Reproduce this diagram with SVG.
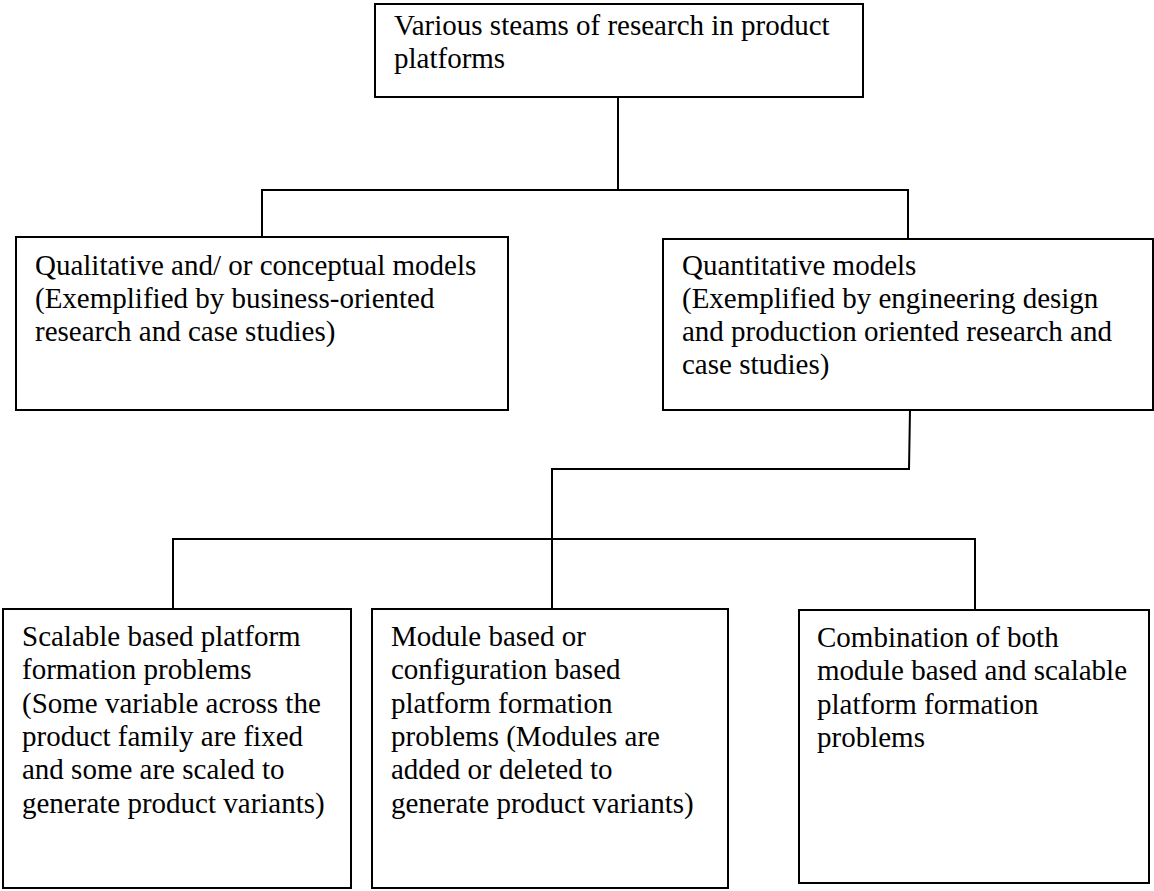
<svg xmlns="http://www.w3.org/2000/svg" width="1154" height="891" viewBox="0 0 1154 891">
  <style>
    .box { fill: #ffffff; stroke: #000000; stroke-width: 2; }
    .link { fill: none; stroke: #000000; stroke-width: 2; }
    .label { font-family: "Liberation Serif", "Times New Roman", serif; font-size: 29px; fill: #000000; }
  </style>
  <rect width="1154" height="891" fill="#ffffff"/>

  <!-- tree connectors -->
  <g id="connectors">
    <polyline class="link" points="618,97 618,190"/>
    <polyline class="link" points="262,237 262,190 908,190 908,239"/>
    <polyline class="link" points="910,410 909,469 552,469 552,609"/>
    <polyline class="link" points="173,609 173,539 975,539 975,610"/>
  </g>

  <g id="node-root">
    <rect class="box" x="375" y="4" width="488" height="93"/>
    <text class="label" x="394" y="35">Various steams of research in product</text>
    <text class="label" x="394" y="68">platforms</text>
  </g>

  <g id="node-qualitative">
    <rect class="box" x="16" y="237" width="492" height="173"/>
    <text class="label" x="35" y="275">Qualitative and/ or conceptual models</text>
    <text class="label" x="35" y="308">(Exemplified by business-oriented</text>
    <text class="label" x="35" y="341">research and case studies)</text>
  </g>

  <g id="node-quantitative">
    <rect class="box" x="663" y="239" width="490" height="171"/>
    <text class="label" x="682" y="275">Quantitative models</text>
    <text class="label" x="682" y="308">(Exemplified by engineering design</text>
    <text class="label" x="682" y="341">and production oriented research and</text>
    <text class="label" x="682" y="374">case studies)</text>
  </g>

  <g id="node-scalable">
    <rect class="box" x="3" y="609" width="348" height="279"/>
    <text class="label" x="22" y="646">Scalable based platform</text>
    <text class="label" x="22" y="679">formation problems</text>
    <text class="label" x="22" y="713">(Some variable across the</text>
    <text class="label" x="22" y="746">product family are fixed</text>
    <text class="label" x="22" y="779">and some are scaled to</text>
    <text class="label" x="22" y="813">generate product variants)</text>
  </g>

  <g id="node-module">
    <rect class="box" x="372" y="609" width="356" height="279"/>
    <text class="label" x="391" y="646">Module based or</text>
    <text class="label" x="391" y="679">configuration based</text>
    <text class="label" x="391" y="713">platform formation</text>
    <text class="label" x="391" y="746">problems (Modules are</text>
    <text class="label" x="391" y="779">added or deleted to</text>
    <text class="label" x="391" y="813">generate product variants)</text>
  </g>

  <g id="node-combination">
    <rect class="box" x="799" y="610" width="350" height="273"/>
    <text class="label" x="817" y="647">Combination of both</text>
    <text class="label" x="817" y="680">module based and scalable</text>
    <text class="label" x="817" y="714">platform formation</text>
    <text class="label" x="817" y="747">problems</text>
  </g>
</svg>
